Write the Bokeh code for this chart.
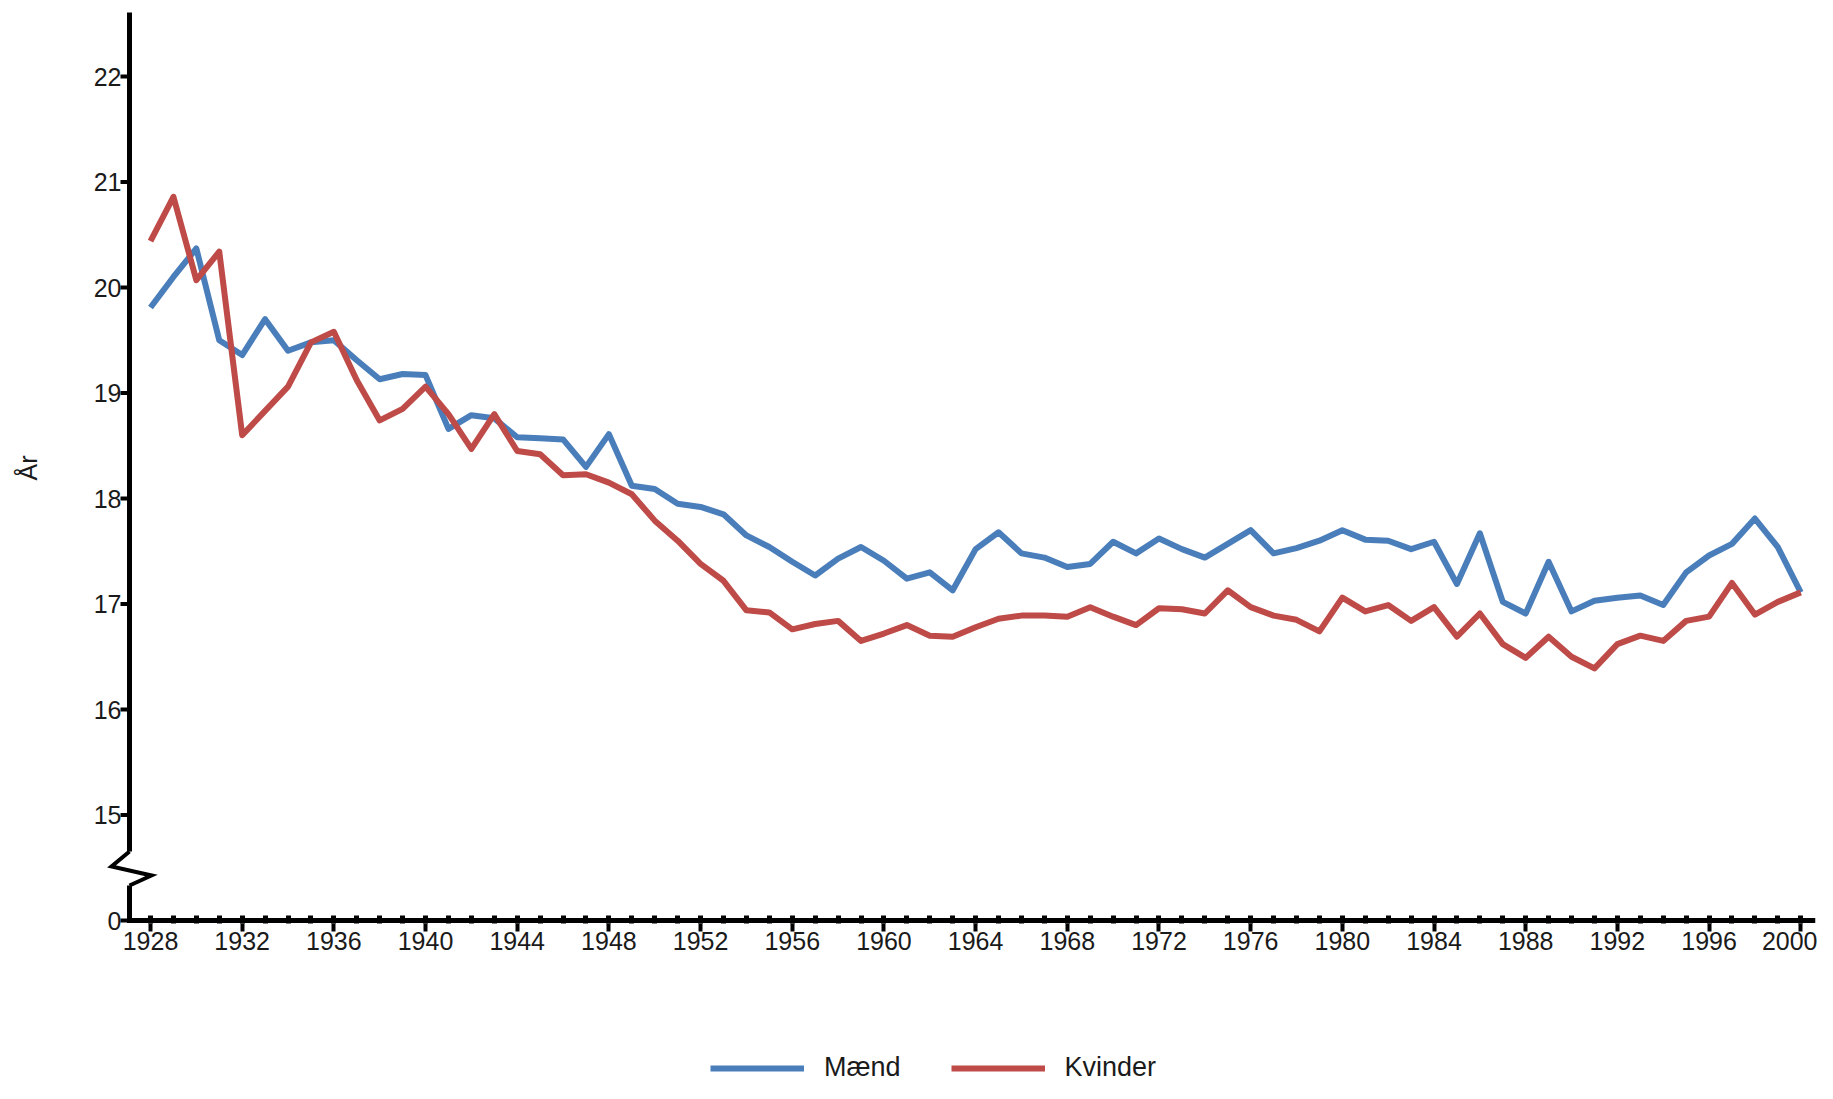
from bokeh.plotting import figure
from bokeh.layouts import column
from bokeh.models import Range1d, FixedTicker, Legend, LegendItem, PolyAnnotation
from bokeh.embed import file_html
from bokeh.resources import INLINE

# ---------------- data ----------------
years = list(range(1928, 2001))
maend = [19.81, 20.10, 20.37, 19.50, 19.36, 19.70, 19.40, 19.48, 19.50, 19.31,
         19.13, 19.18, 19.17, 18.66, 18.79, 18.76, 18.58, 18.57, 18.56, 18.30,
         18.61, 18.12, 18.09, 17.95, 17.92, 17.85, 17.65, 17.54, 17.40, 17.27,
         17.43, 17.54, 17.41, 17.24, 17.30, 17.13, 17.52, 17.68, 17.48, 17.44,
         17.35, 17.38, 17.59, 17.48, 17.62, 17.52, 17.44, 17.57, 17.70, 17.48,
         17.53, 17.60, 17.70, 17.61, 17.60, 17.52, 17.59, 17.19, 17.67, 17.02,
         16.91, 17.40, 16.93, 17.03, 17.06, 17.08, 16.99, 17.30, 17.46, 17.57,
         17.81, 17.54, 17.11]
kvinder = [20.44, 20.86, 20.07, 20.34, 18.60, 18.83, 19.06, 19.48, 19.58, 19.12,
           18.74, 18.85, 19.06, 18.80, 18.47, 18.80, 18.45, 18.42, 18.22, 18.23,
           18.15, 18.04, 17.79, 17.60, 17.38, 17.22, 16.94, 16.92, 16.76, 16.81,
           16.84, 16.65, 16.72, 16.80, 16.70, 16.69, 16.78, 16.86, 16.89, 16.89,
           16.88, 16.97, 16.88, 16.80, 16.96, 16.95, 16.91, 17.13, 16.97, 16.89,
           16.85, 16.74, 17.06, 16.93, 16.99, 16.84, 16.97, 16.69, 16.91, 16.62,
           16.49, 16.69, 16.50, 16.39, 16.62, 16.70, 16.65, 16.84, 16.88, 17.20,
           16.90, 17.02, 17.11]
x_tick_years = list(range(1928, 2001, 4))
y_ticks = [14, 15, 16, 17, 18, 19, 20, 21, 22]
y_tick_labels = ["0", "15", "16", "17", "18", "19", "20", "21", "22"]
series_names = ["Mænd", "Kvinder"]

# ---------------- style ----------------
FONT = "Liberation Sans"
TXT = "#1a1a1a"
BLUE = "#4a7ebb"
RED = "#be4b48"

PX_X = 22.92          # px per year
PX_Y = 105.5          # px per unit
FRAME_LEFT = 105
AXIS_PX = 129             # screen x of the drawn y axis line
X_AX = 1928 - 21 / PX_X   # data x of the y axis line
Y_AX = 14.0               # data y of the x axis line (labelled "0")
X0 = 1928 - (150 - FRAME_LEFT) / PX_X
X1 = 1928 + 1665 / PX_X
Y0 = Y_AX - 3 / PX_Y
Y1 = 22 + 64 / PX_Y

p = figure(width=1817, height=1000, output_backend="svg", toolbar_location=None,
           x_range=Range1d(X0, X1), y_range=Range1d(Y0, Y1),
           min_border_left=FRAME_LEFT, min_border_right=2, min_border_top=12,
           min_border_bottom=77)
p.outline_line_color = None
p.xgrid.visible = False
p.ygrid.visible = False
p.background_fill_color = "white"
p.border_fill_color = "white"

r1 = p.line(years, maend, line_color=BLUE, line_width=6, line_join="round")
r2 = p.line(years, kvinder, line_color=RED, line_width=6, line_join="round")

# x axis (line itself drawn below as a band)
xa = p.xaxis[0]
xa.ticker = FixedTicker(ticks=x_tick_years, minor_ticks=years)
xa.axis_line_color = None
xa.major_tick_line_width = 4
xa.major_tick_line_color = "black"
xa.major_tick_out = 8
xa.major_tick_in = 0
xa.minor_tick_line_width = 5
xa.minor_tick_line_color = "black"
xa.minor_tick_in = 8
xa.minor_tick_out = 0
xa.major_label_text_font = FONT
xa.major_label_text_font_size = "25px"
xa.major_label_text_color = TXT
xa.major_label_standoff = 0

# y axis: labels from the axis, shifted right onto the drawn axis line
ya = p.yaxis[0]
ya.ticker = FixedTicker(ticks=y_ticks)
ya.major_label_overrides = {t: l for t, l in zip(y_ticks, y_tick_labels)}
ya.axis_line_color = None
ya.major_tick_line_color = None
ya.major_tick_out = 0
ya.major_tick_in = 0
ya.minor_tick_line_color = None
ya.major_label_text_font = FONT
ya.major_label_text_font_size = "25px"
ya.major_label_text_color = TXT
ya.major_label_standoff = -(AXIS_PX - 8 - FRAME_LEFT)
ya.axis_label = "År"
ya.axis_label_text_font = FONT
ya.axis_label_text_font_size = "25px"
ya.axis_label_text_font_style = "normal"
ya.axis_label_text_color = TXT
ya.axis_label_standoff = 49

# axis lines and y ticks drawn as black bands, with the break between 15 and 0
HW_X = 2.5 / PX_X
HW_Y = 2.5 / PX_Y
gap_top, gap_bot = 14.654, 14.332


def band(x_a, x_b, y_a, y_b):
    p.add_layout(PolyAnnotation(xs=[x_a, x_b, x_b, x_a], ys=[y_a, y_a, y_b, y_b],
                                fill_color="black", fill_alpha=1.0,
                                line_color=None))


band(X_AX - HW_X, X1, Y_AX + HW_Y, Y_AX - HW_Y)          # x axis line
band(X_AX - HW_X, X_AX + HW_X, Y1 + 0.1, gap_top)         # y axis, upper part
band(X_AX - HW_X, X_AX + HW_X, gap_bot, Y_AX)             # y axis, lower part
for t in y_ticks:                                         # y ticks
    band(X_AX - 9 / PX_X, X_AX, t + 2 / PX_Y, t - 2 / PX_Y)

zz_x = [X_AX, X_AX - 18 / PX_X, X_AX + 22 / PX_X, X_AX]
zz_y = [gap_top, 14.512, 14.427, gap_bot]
p.add_layout(PolyAnnotation(
    xs=zz_x + zz_x[-2:0:-1], ys=zz_y + zz_y[-2:0:-1],
    fill_alpha=0.0, line_color="black", line_alpha=1.0, line_width=4,
    line_join="miter"))

# legend in its own strip below the chart
lg = figure(width=1817, height=83, output_backend="svg", toolbar_location=None,
            x_range=Range1d(0, 1), y_range=Range1d(0, 1),
            x_axis_location=None, y_axis_location=None, min_border=0)
lg.outline_line_color = None
lg.xgrid.visible = False
lg.ygrid.visible = False
g1 = lg.line([-5, -4], [-5, -5], line_color=BLUE, line_width=6)
g2 = lg.line([-5, -4], [-5, -5], line_color=RED, line_width=6)
legend = Legend(items=[LegendItem(label=series_names[0], renderers=[g1]),
                       LegendItem(label=series_names[1], renderers=[g2])],
                location=(605, 0), orientation="horizontal",
                padding=0, spacing=50, glyph_width=94, glyph_height=30,
                label_standoff=20, label_height=30,
                label_text_font=FONT, label_text_font_size="27px", label_text_color=TXT,
                border_line_color=None, background_fill_alpha=0)
lg.add_layout(legend, "center")

layout = column(p, lg, spacing=0)
open("out.html", "w").write(file_html(layout, INLINE))
